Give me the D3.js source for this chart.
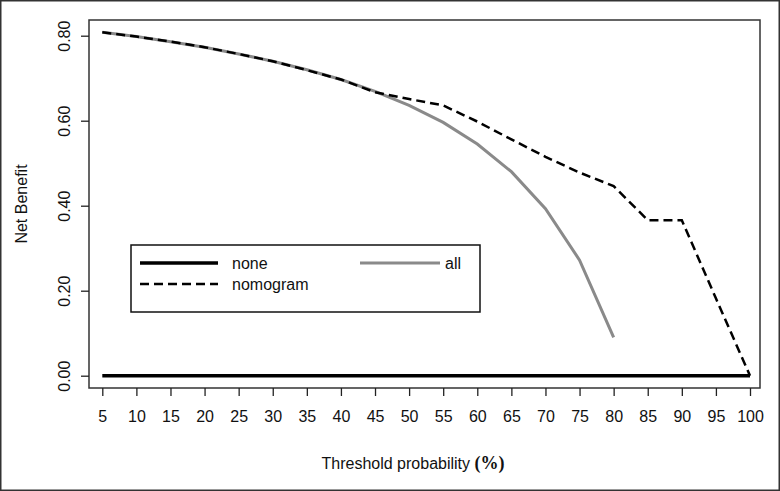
<!DOCTYPE html>
<html>
<head>
<meta charset="utf-8">
<script src="https://cdn.jsdelivr.net/npm/d3@7"></script>
<style>
  html, body { margin: 0; padding: 0; background: #fff; }
  svg { display: block; }
  text { font-family: "Liberation Sans", Arial, sans-serif; fill: #111; }
</style>
</head>
<body>
<svg id="chart" width="780" height="491"></svg>
<script>
// ---- data ----
const thresholds = [5,10,15,20,25,30,35,40,45,50,55,60,65,70,75,80,85,90,95,100];
const noneValues = thresholds.map(() => 0);
const allThresholds = [5,10,15,20,25,30,35,40,45,50,55,60,65,70,75,80];
const allValues = [0.808,0.798,0.786,0.773,0.757,0.740,0.720,0.697,0.669,0.636,0.596,0.545,0.480,0.393,0.272,0.090];
const nomogramValues = [0.808,0.798,0.786,0.773,0.757,0.740,0.719,0.697,0.667,0.651,0.636,0.598,0.556,0.515,0.478,0.446,0.366,0.366,0.182,0.0];
const xTickLabels = ["5","10","15","20","25","30","35","40","45","50","55","60","65","70","75","80","85","90","95","100"];
const yTicks = [0.00,0.20,0.40,0.60,0.80];
const legendItems = ["none","all","nomogram"];

// ---- layout ----
const svg = d3.select("#chart");
const box = {left: 89, top: 20, right: 760, bottom: 388};
const x = d3.scaleLinear().domain([5,100]).range([102.3, 750]);
const y = d3.scaleLinear().domain([0,0.8]).range([375.7, 35.7]);

// outer frame
svg.append("rect").attr("x",0.75).attr("y",0.75).attr("width",778.5).attr("height",489.5)
  .attr("fill","none").attr("stroke","#333").attr("stroke-width",1.5);

// plot box
svg.append("rect").attr("x",box.left).attr("y",box.top)
  .attr("width",box.right-box.left).attr("height",box.bottom-box.top)
  .attr("fill","none").attr("stroke","#333").attr("stroke-width",1.5);

// x axis
const xAxis = d3.axisBottom(x).tickValues(thresholds)
  .tickFormat((d,i) => xTickLabels[i]).tickSize(8).tickPadding(15);
const gx = svg.append("g").attr("transform",`translate(0,${box.bottom})`).call(xAxis);
gx.select(".domain").remove();
gx.selectAll(".tick line").attr("stroke","#222").attr("stroke-width",1.3);
gx.selectAll(".tick text").attr("font-size",16).attr("font-family","Liberation Sans, Arial, sans-serif").attr("fill","#111");

// y axis
const yAxis = d3.axisLeft(y).tickValues(yTicks).tickFormat(d3.format(".2f")).tickSize(8);
const gy = svg.append("g").attr("transform",`translate(${box.left},0)`).call(yAxis);
gy.select(".domain").remove();
gy.selectAll(".tick line").attr("stroke","#222").attr("stroke-width",1.3);
gy.selectAll(".tick text")
  .attr("x",0).attr("y",0).attr("dy",null)
  .attr("font-size",16).attr("font-family","Liberation Sans, Arial, sans-serif").attr("fill","#111")
  .attr("text-anchor","middle")
  .attr("transform","translate(-19,0) rotate(-90)");

// axis titles
svg.append("text").attr("transform",`translate(27,${(box.top+box.bottom)/2}) rotate(-90)`)
  .attr("text-anchor","middle").attr("font-size",16).text("Net Benefit");
const xt = svg.append("text").attr("x",413).attr("y",469).attr("text-anchor","middle").attr("font-size",16);
xt.append("tspan").text("Threshold probability ");
xt.append("tspan").attr("font-family","Liberation Serif, 'Times New Roman', serif").attr("font-weight","bold").attr("font-size",18).text("(%)");

// lines
const line = d3.line().x(d => x(d[0])).y(d => y(d[1]));
svg.append("path").datum(thresholds.map((t,i)=>[t,noneValues[i]]))
  .attr("d",line).attr("fill","none").attr("stroke","#000").attr("stroke-width",3.5);
svg.append("path").datum(allThresholds.map((t,i)=>[t,allValues[i]]))
  .attr("d",line).attr("fill","none").attr("stroke","#8a8a8a").attr("stroke-width",3);
svg.append("path").datum(thresholds.map((t,i)=>[t,nomogramValues[i]]))
  .attr("d",line).attr("fill","none").attr("stroke","#000").attr("stroke-width",2.5)
  .attr("stroke-dasharray","9,5");

// legend
const lg = svg.append("g");
lg.append("rect").attr("x",131).attr("y",245).attr("width",349).attr("height",67)
  .attr("fill","#fff").attr("stroke","#111").attr("stroke-width",1.5);
const legendStyles = [
  {x1:140,x2:218,y:263,stroke:"#000",w:3.5,dash:null,tx:232},
  {x1:360,x2:440,y:263,stroke:"#8a8a8a",w:3,dash:null,tx:445},
  {x1:140,x2:218,y:284,stroke:"#000",w:2.5,dash:"9,5",tx:232}
];
legendItems.forEach((name,i) => {
  const s = legendStyles[i];
  lg.append("line").attr("x1",s.x1).attr("x2",s.x2).attr("y1",s.y).attr("y2",s.y)
    .attr("stroke",s.stroke).attr("stroke-width",s.w).attr("stroke-dasharray",s.dash);
  lg.append("text").attr("x",s.tx).attr("y",s.y+6).attr("font-size",16).text(name);
});
</script>
</body>
</html>
